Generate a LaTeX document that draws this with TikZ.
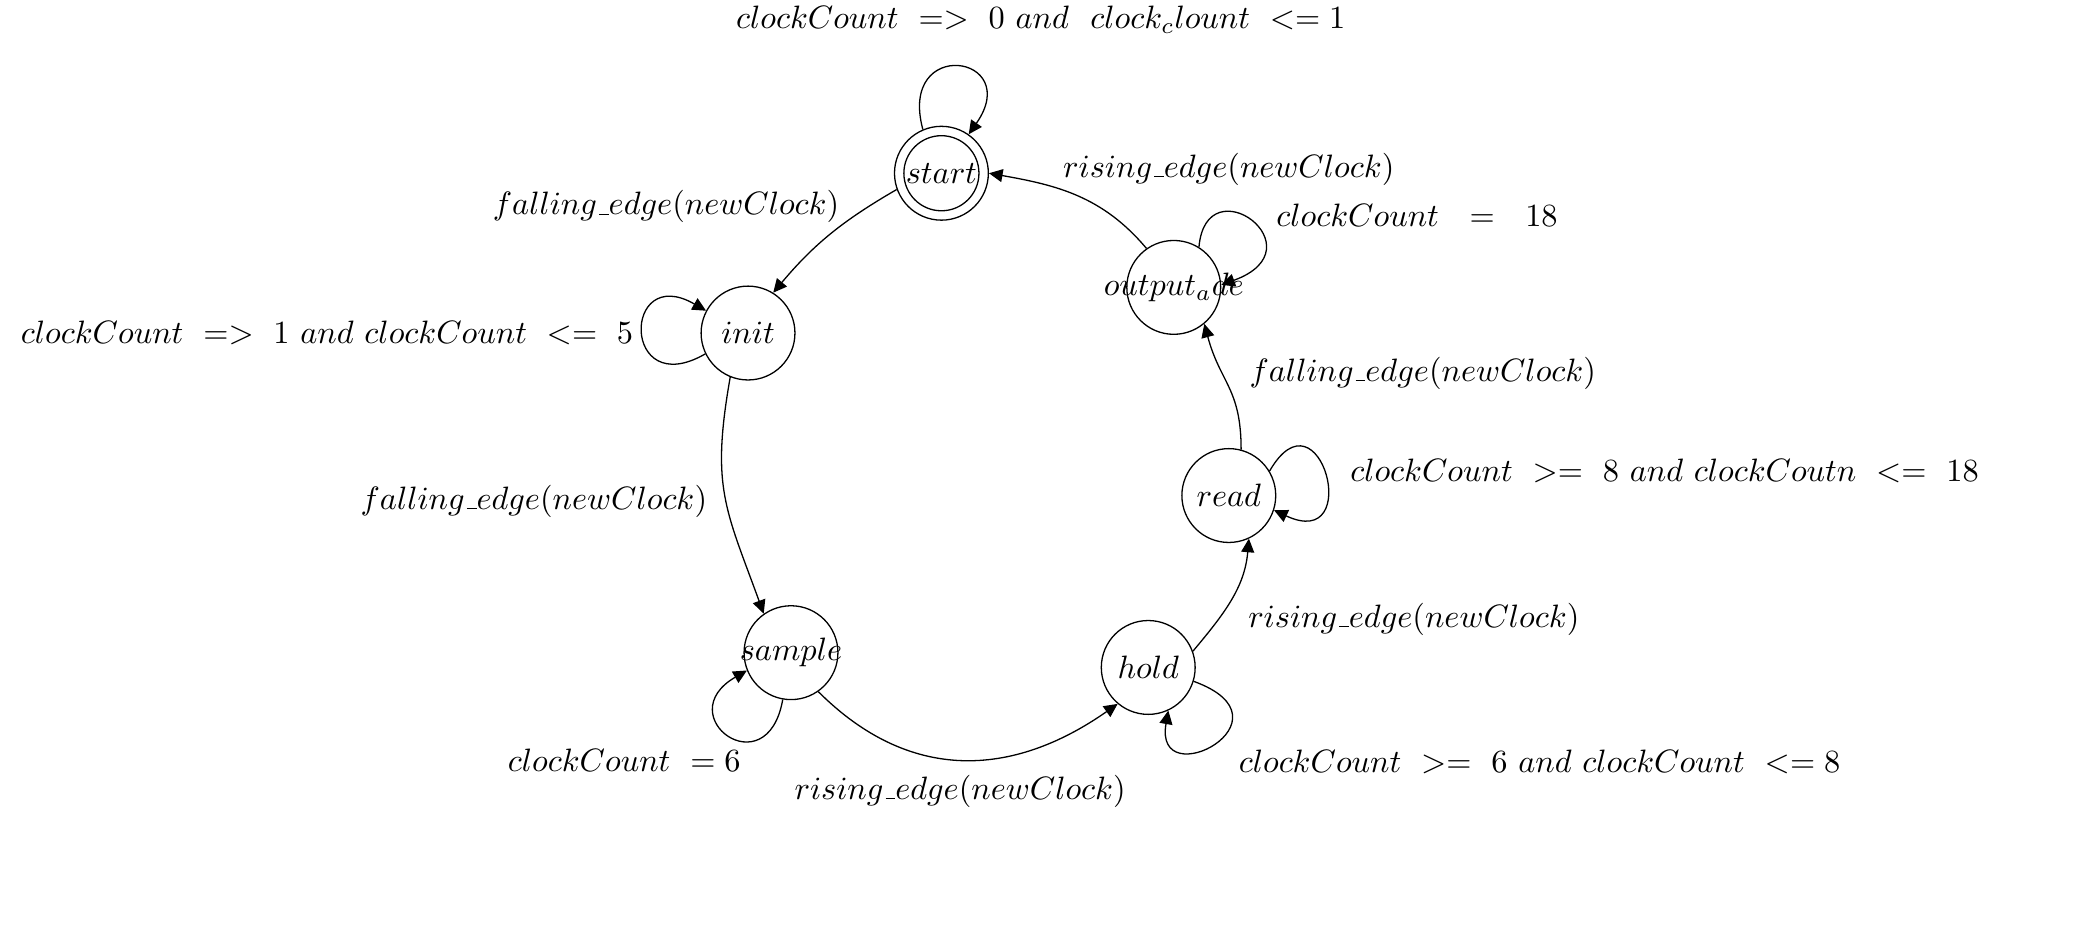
\documentclass[tikz,border=0pt]{standalone}
\usetikzlibrary{arrows.meta}
\newcommand\usc{\kern.06em\vbox{\hrule width.3em}}
\begin{document}
\begin{tikzpicture}[x=0.415pt,y=-0.415pt,
  state/.style={circle,draw,minimum size=29pt,inner sep=0pt},
  arr/.style={-{Triangle[length=4.2pt,width=4pt]}},
  lbl/.style={inner sep=0pt}]
\useasboundingbox (3,1) rectangle (1563,696);
% states
\node[state] (start) at (704,130) {\makebox[0pt]{$start$}};
\draw (start.center) circle[radius=11.6pt];
\node[state] (init) at (560,249) {\makebox[0pt]{$init$}};
\node[state] (output) at (877,215) {\makebox[0pt]{$output_ade$}};
\node[state] (read) at (918,370) {\makebox[0pt]{$read$}};
\node[state] (hold) at (858,498) {\makebox[0pt]{$hold$}};
\node[state] (sample) at (592,487) {\makebox[0pt]{$sample$}};
% self loops
\draw[arr] (start.113) to[out=105,in=55,distance=30pt] (start.55);
\draw[arr] (init.206) to[out=210,in=150,distance=30pt] (init.152);
\draw[arr] (output.58) to[out=85,in=20,out distance=26pt,in distance=33pt] (output.3);
\draw[arr] (read.31) to[out=60,in=-25,distance=31pt] (read.-18);
\draw[arr] (hold.-17) to[out=-20,in=-100,out distance=35pt,in distance=27pt] (hold.-65);
\draw[arr] (sample.-100) to[out=-100,in=-150,distance=28pt] (sample.-158);
% transitions
\draw[arr] (start.200) to[out=210,in=50] (init.58);
\draw[arr] (init.-112) to[out=-100,in=110,looseness=1.2] (sample.125);
\draw[arr] (sample.-55) to[out=-45,in=-145,looseness=1.1] (hold.-130);
\draw[arr] (hold.20) to[out=50,in=-95] (read.-65);
\draw[arr] (read.75) to[out=90,in=-75,looseness=1.2] (output.-50);
\draw[arr] (output.125) to[out=130,in=-10] (start.0);
% labels
\node[lbl] (l0) at (778,16) {$clockCount\ =>\ 0\ and\ \ clock_clount\ <= 1$};
\node[lbl] (l1) at (499,155) {$falling\usc edge(newClock)$};
\node[lbl,anchor=east] (l2) at (475,249) {$clockCount\ =>\ 1\ and\ clockCount\ <=\ 5$};
\node[lbl] (l3) at (918,127) {$rising\usc edge(newClock)$};
\node[lbl,anchor=west] (l4) at (953,161) {$clockCount\ \ =\ \ 18$};
\node[lbl,anchor=west] (l5) at (933,279) {$falling\usc edge(newClock)$};
\node[lbl,anchor=west] (l6) at (1008,352) {$clockCount\ >=\ 8\ and\ clockCoutn\ <=\ 18$};
\node[lbl,anchor=west] (l7) at (932,462) {$rising\usc edge(newClock)$};
\node[lbl,anchor=west] (l8) at (925,568) {$clockCount\ >=\ 6\ and\ clockCount\ <= 8$};
\node[lbl] (l9) at (718,590) {$rising\usc edge(newClock)$};
\node[lbl,anchor=east] (l10) at (555,567) {$clockCount\ = 6$};
\node[lbl,anchor=east] (l11) at (530,374) {$falling\usc edge(newClock)$};
\end{tikzpicture}
\end{document}
